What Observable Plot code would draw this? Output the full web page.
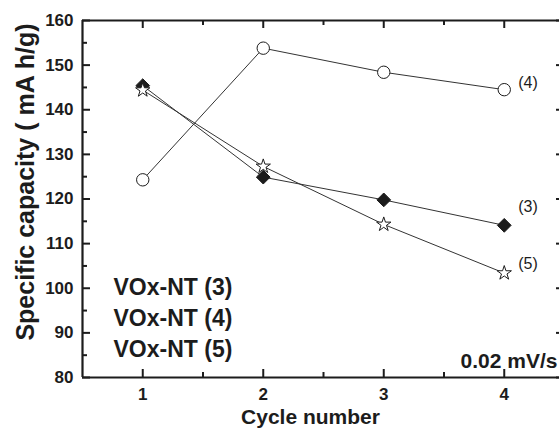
<!DOCTYPE html>
<html>
<head>
<meta charset="utf-8">
<script src="https://cdn.jsdelivr.net/npm/d3@7"></script>
<script src="https://cdn.jsdelivr.net/npm/@observablehq/plot@0.6"></script>
<style>
  html, body { margin: 0; padding: 0; background: #fff; overflow: hidden; }
  #chart svg { display: block; }
</style>
</head>
<body>
<div id="chart"></div>
<script>
// Cycle numbers and specific capacity (mA h/g) for the three nanotube samples
const cycles = [1, 2, 3, 4];
const vox3 = [145.4, 124.9, 119.8, 114.1];
const vox4 = [124.3, 153.8, 148.4, 144.5];
const vox5 = [144.4, 127.3, 114.3, 103.4];

const seriesNames = ["VOx-NT (3)", "VOx-NT (4)", "VOx-NT (5)"];
const endLabels = ["(3)", "(4)", "(5)"];
const rateLabel = "0.02 mV/s";

// Axis ticks
const xMajor = [1, 2, 3, 4];
const xMinor = [1.5, 2.5, 3.5];
const yMajor = [80, 90, 100, 110, 120, 130, 140, 150, 160];
const yMinor = [85, 95, 105, 115, 125, 135, 145, 155];

const rows = (vals, name) => cycles.map((c, i) => ({cycle: c, cap: vals[i], name}));
const s3 = rows(vox3, seriesNames[0]);
const s4 = rows(vox4, seriesNames[1]);
const s5 = rows(vox5, seriesNames[2]);
const last = [
  {cycle: cycles[3], cap: vox3[3], label: endLabels[0], dy: -18},
  {cycle: cycles[3], cap: vox4[3], label: endLabels[1], dy: -7},
  {cycle: cycles[3], cap: vox5[3], label: endLabels[2], dy: -9.5}
];

const font = "'Liberation Sans', Arial, Helvetica, sans-serif";
const ink = "#1c1c1c";
const W = 559, H = 428, mT = 20, mB = 51, mL = 82, mR = -5;
const plotH = H - mT - mB, plotW = W - mL - mR;

const chart = Plot.plot({
  width: W,
  height: H,
  marginTop: mT,
  marginBottom: mB,
  marginLeft: mL,
  marginRight: mR,
  style: {fontFamily: font, color: ink, background: "#fff", overflow: "visible"},
  x: {domain: [0.5, 4.5]},
  y: {domain: [80, 160]},
  marks: [
    // tick marks pointing inward on all four sides
    Plot.tickX(xMajor, {x: d => d, insetTop: plotH - 8, stroke: ink, strokeWidth: 2}),
    Plot.tickX(xMinor, {x: d => d, insetTop: plotH - 5, stroke: ink, strokeWidth: 2}),
    Plot.tickX(xMajor, {x: d => d, insetBottom: plotH - 8, stroke: ink, strokeWidth: 2}),
    Plot.tickX(xMinor, {x: d => d, insetBottom: plotH - 5, stroke: ink, strokeWidth: 2}),
    Plot.tickY(yMajor, {y: d => d, insetRight: plotW - 8, stroke: ink, strokeWidth: 2}),
    Plot.tickY(yMinor, {y: d => d, insetRight: plotW - 5, stroke: ink, strokeWidth: 2}),
    Plot.tickY(yMajor, {y: d => d, insetLeft: plotW - 8, stroke: ink, strokeWidth: 2}),
    Plot.tickY(yMinor, {y: d => d, insetLeft: plotW - 5, stroke: ink, strokeWidth: 2}),
    // frame
    Plot.ruleX([0.5, 4.5], {stroke: ink, strokeWidth: 2.2}),
    Plot.ruleY([80, 160], {stroke: ink, strokeWidth: 2.2}),
    // tick labels
    Plot.axisX({ticks: xMajor, tickSize: 0, tickPadding: 10, tickFormat: d => d,
      fontSize: 17, fontWeight: "bold", label: null}),
    Plot.axisY({ticks: yMajor, tickSize: 0, tickPadding: 9, tickFormat: d => d,
      fontSize: 17, fontWeight: "bold", label: null}),
    // axis titles
    Plot.text(["Cycle number"], {frameAnchor: "bottom", dx: -13, dy: 46, lineAnchor: "bottom",
      fontSize: 21, fontWeight: "bold", fill: ink}),
    Plot.text(["Specific capacity ( mA h/g)"], {frameAnchor: "left", rotate: -90, dx: -57, dy: -17,
      textAnchor: "middle", lineAnchor: "middle", fontSize: 25, fontWeight: "bold", fill: ink}),
    // series lines
    Plot.line(s4, {x: "cycle", y: "cap", stroke: "#333", strokeWidth: 1}),
    Plot.line(s3, {x: "cycle", y: "cap", stroke: "#333", strokeWidth: 1}),
    Plot.line(s5, {x: "cycle", y: "cap", stroke: "#333", strokeWidth: 1}),
    // markers
    Plot.dot(s4, {x: "cycle", y: "cap", symbol: "circle", r: 6.2, fill: "#fff", stroke: ink, strokeWidth: 1}),
    Plot.dot(s3, {x: "cycle", y: "cap", symbol: "diamond2", r: 6.2, fill: ink, stroke: ink, strokeWidth: 1}),
    Plot.dot(s5, {x: "cycle", y: "cap", symbol: "star", r: 4.5, fill: "#fff", stroke: ink, strokeWidth: 1}),
    // end-of-series labels
    ...last.map(d => Plot.text([d], {x: "cycle", y: "cap", text: "label", dx: 14, dy: d.dy,
      textAnchor: "start", lineAnchor: "middle", fontSize: 16, fill: ink})),
    // sample names
    Plot.text([seriesNames.join("\n")], {frameAnchor: "left", dx: 31, dy: 117, lineAnchor: "middle",
      textAnchor: "start", lineHeight: 1.35, fontSize: 23, fontWeight: "bold", fill: ink}),
    // scan rate
    Plot.text([rateLabel], {frameAnchor: "bottom-right", dx: -7, dy: -10, lineAnchor: "bottom",
      textAnchor: "end", fontSize: 21, fontWeight: "bold", fill: ink})
  ]
});

document.getElementById("chart").append(chart);
</script>
</body>
</html>
